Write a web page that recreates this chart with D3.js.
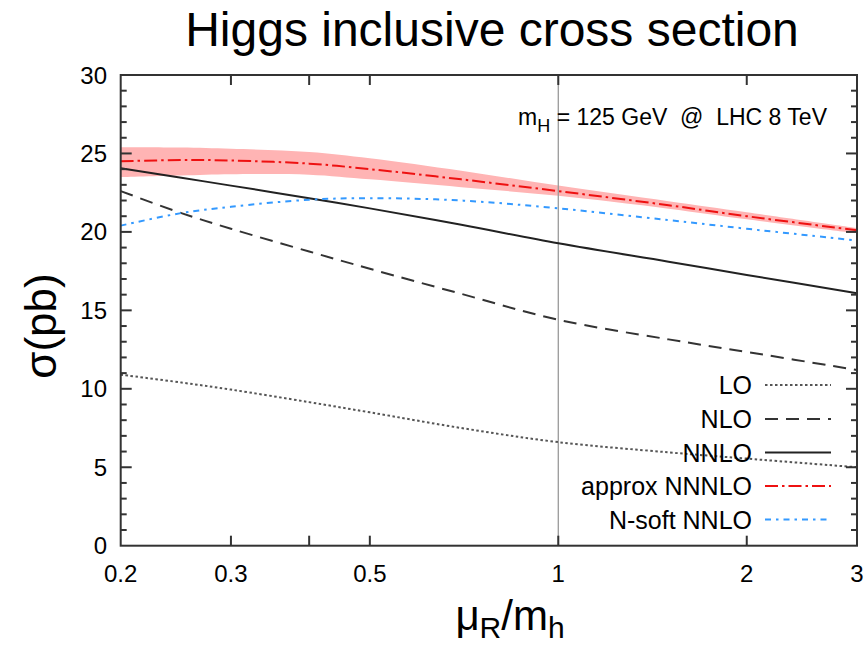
<!DOCTYPE html>
<html><head><meta charset="utf-8">
<script src="https://cdn.jsdelivr.net/npm/d3@7"></script>
<style>
body{margin:0;background:#fff;}
text{font-family:"Liberation Sans",Arial,sans-serif;white-space:pre;}
</style></head>
<body><svg id="c" width="868" height="646"></svg>
<script>
const muR = [0.2, 0.25, 0.3, 0.4, 0.5, 0.7, 1, 1.5, 2, 3];
const LO = [10.9, 10.4, 9.95, 9.15, 8.5, 7.5, 6.6, 5.95, 5.55, 5.0];
const NLO = [22.6, 21.2, 20.2, 18.75, 17.65, 16.05, 14.4, 13.15, 12.35, 11.2];
const NNLO = [24.05, 23.45, 22.95, 22.15, 21.5, 20.45, 19.27, 18.1, 17.26, 16.09];
const approxNNNLO = [24.5, 24.58, 24.55, 24.35, 24.0, 23.35, 22.6, 21.7, 21.0, 20.1];
const bandUpper = [25.4, 25.38, 25.3, 25.1, 24.7, 23.9, 22.95, 21.95, 21.25, 20.25];
const bandLower = [23.5, 23.6, 23.68, 23.65, 23.35, 22.85, 22.3, 21.48, 20.8, 19.9];
const NsoftNNLO = [20.4, 21.2, 21.6, 22.05, 22.15, 22.0, 21.5, 20.75, 20.2, 19.45];
const xTickVals = [0.2, 0.3, 0.4, 0.5, 1, 2, 3];
const xTickLabels = ["0.2", "0.3", "", "0.5", "1", "2", "3"];
const yMajor = [0, 5, 10, 15, 20, 25, 30];
const legendNames = ["LO", "NLO", "NNLO", "approx NNNLO", "N-soft NNLO"];

const svg = d3.select("#c");
const L = 120.7, R = 857, T = 75, B = 545.7;
const x = d3.scaleLog().domain([0.2, 3]).range([L, R]);
const y = d3.scaleLinear().domain([0, 30]).range([B, T]);

const styles = [
  {data: LO, color: "#555", dash: "2.5,2.5", w: 2},
  {data: NLO, color: "#333", dash: "13,8", w: 2},
  {data: NNLO, color: "#222", dash: null, w: 2},
  {data: approxNNNLO, color: "#ee1111", dash: "13,4,2.5,4", w: 2},
  {data: NsoftNNLO, color: "#3399ff", dash: "6,5,2.5,5", w: 2}
];

// title
svg.append("text").attr("x", 492).attr("y", 46).attr("text-anchor", "middle")
  .attr("font-size", 48).attr("fill", "#000").text("Higgs inclusive cross section");

// band
const area = d3.area().x((d, i) => x(muR[i])).y0((d, i) => y(bandLower[i])).y1((d, i) => y(bandUpper[i]))
  .curve(d3.curveCatmullRom.alpha(0.5));
svg.append("path").datum(muR).attr("d", area).attr("fill", "#ffb4b4");

// vertical line at 1
svg.append("line").attr("x1", x(1)).attr("x2", x(1)).attr("y1", T).attr("y2", B)
  .attr("stroke", "#999").attr("stroke-width", 1.3);

// curves
const line = d3.line().x((d, i) => x(muR[i])).y(d => y(d)).curve(d3.curveCatmullRom.alpha(0.5));
styles.forEach(s => {
  svg.append("path").datum(s.data).attr("d", line).attr("fill", "none")
    .attr("stroke", s.color).attr("stroke-width", s.w)
    .attr("stroke-dasharray", s.dash);
});

// frame
svg.append("rect").attr("x", L).attr("y", T).attr("width", R - L).attr("height", B - T)
  .attr("fill", "none").attr("stroke", "#333").attr("stroke-width", 2);

// y ticks
d3.range(1, 30, 1).forEach(v => {
  const len = v % 5 === 0 ? 11 : 6;
  svg.append("line").attr("x1", L).attr("x2", L + len).attr("y1", y(v)).attr("y2", y(v)).attr("stroke", "#333").attr("stroke-width", 2);
  svg.append("line").attr("x1", R).attr("x2", R - len).attr("y1", y(v)).attr("y2", y(v)).attr("stroke", "#333").attr("stroke-width", 2);
});
yMajor.forEach(v => {
  svg.append("text").attr("x", 107).attr("y", y(v) + 8.5).attr("text-anchor", "end")
    .attr("font-size", 24).attr("fill", "#000").text(v);
});

// x ticks
xTickVals.forEach((v, i) => {
  if (v !== 0.2 && v !== 3) {
    svg.append("line").attr("x1", x(v)).attr("x2", x(v)).attr("y1", B).attr("y2", B - 10).attr("stroke", "#333").attr("stroke-width", 2);
    svg.append("line").attr("x1", x(v)).attr("x2", x(v)).attr("y1", T).attr("y2", T + 10).attr("stroke", "#333").attr("stroke-width", 2);
  }
  if (xTickLabels[i]) {
    svg.append("text").attr("x", x(v)).attr("y", 582).attr("text-anchor", "middle")
      .attr("font-size", 24).attr("fill", "#000").text(xTickLabels[i]);
  }
});

// annotation
const ann = svg.append("text").attr("x", 827).attr("y", 125).attr("text-anchor", "end")
  .attr("font-size", 23).attr("fill", "#000").attr("xml:space", "preserve");
ann.append("tspan").text("m");
ann.append("tspan").attr("font-size", 18).attr("dy", 7).text("H");
ann.append("tspan").attr("dy", -7).text(" = 125 GeV  @  LHC 8 TeV");

// legend
const legY = [385, 419, 452.5, 486, 519.5];
legendNames.forEach((n, i) => {
  svg.append("text").attr("x", 752).attr("y", legY[i] + 9).attr("text-anchor", "end")
    .attr("font-size", 25).attr("fill", "#000").text(n);
  const s = styles[i];
  svg.append("line").attr("x1", 765).attr("x2", 831).attr("y1", legY[i]).attr("y2", legY[i])
    .attr("stroke", s.color).attr("stroke-width", s.w).attr("stroke-dasharray", s.dash);
});

// axis labels
svg.append("text").attr("transform", "translate(56,326) rotate(-90)").attr("text-anchor", "middle")
  .attr("font-size", 44).attr("fill", "#000").text("σ(pb)");
const xl = svg.append("text").attr("x", 510).attr("y", 630).attr("text-anchor", "middle")
  .attr("font-size", 42).attr("fill", "#000");
xl.append("tspan").text("μ");
xl.append("tspan").attr("font-size", 30).attr("dy", 8).text("R");
xl.append("tspan").attr("dy", -8).text("/m");
xl.append("tspan").attr("font-size", 30).attr("dy", 8).text("h");
</script></body></html>
